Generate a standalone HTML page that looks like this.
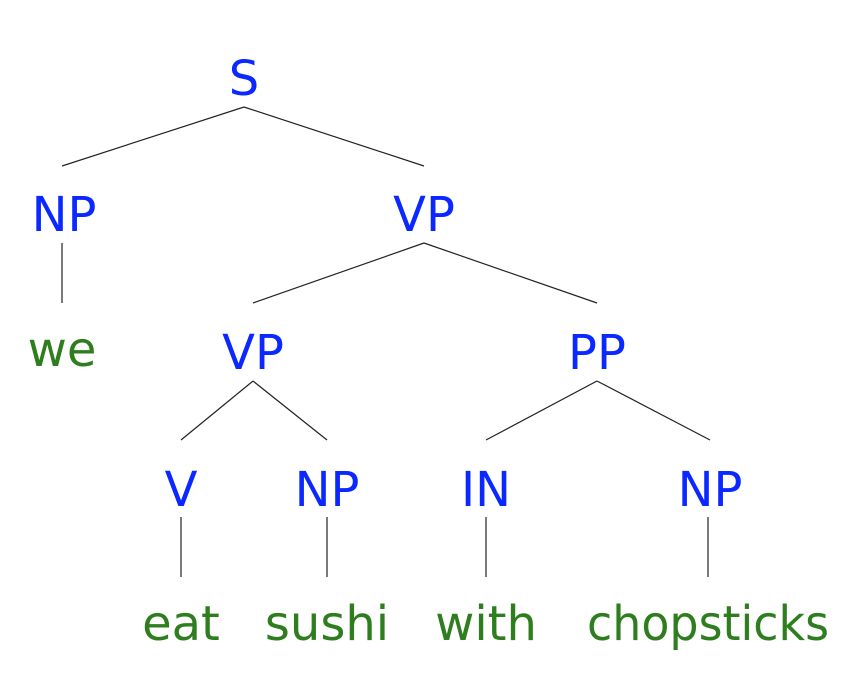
<!DOCTYPE html>
<html><head><style>html,body{margin:0;padding:0;background:#fff}</style></head>
<body>
<svg width="862" height="670" xmlns="http://www.w3.org/2000/svg" font-family="DejaVu Sans, sans-serif" font-size="48" text-anchor="middle">
<g stroke="#222" stroke-width="1.2" fill="none">
<line x1="244" y1="107" x2="62" y2="166"/><line x1="244" y1="107" x2="424" y2="166"/>
<line x1="62" y1="243" x2="62" y2="303"/>
<line x1="424" y1="243" x2="253" y2="303"/><line x1="424" y1="243" x2="597" y2="303"/>
<line x1="253" y1="381" x2="181" y2="440"/><line x1="253" y1="381" x2="327" y2="440"/>
<line x1="597" y1="381" x2="486" y2="440"/><line x1="597" y1="381" x2="710" y2="440"/>
<line x1="181" y1="517" x2="181" y2="577"/><line x1="327" y1="517" x2="327" y2="577"/>
<line x1="486" y1="517" x2="486" y2="577"/><line x1="708" y1="517" x2="708" y2="577"/>
</g>
<g fill="#0a28ff">
<text x="244" y="95">S</text>
<text x="64" y="231">NP</text><text x="424" y="231">VP</text>
<text x="253" y="369">VP</text><text x="597" y="369">PP</text>
<text x="181" y="506">V</text><text x="327" y="506">NP</text><text x="486" y="506">IN</text><text x="710" y="506">NP</text>
</g>
<g fill="#2e7d1e">
<text x="62" y="366">we</text>
<text x="181" y="640">eat</text><text x="327" y="640">sushi</text><text x="486" y="640">with</text><text x="708" y="640" textLength="242" lengthAdjust="spacingAndGlyphs">chopsticks</text>
</g>
</svg>
</body></html>
